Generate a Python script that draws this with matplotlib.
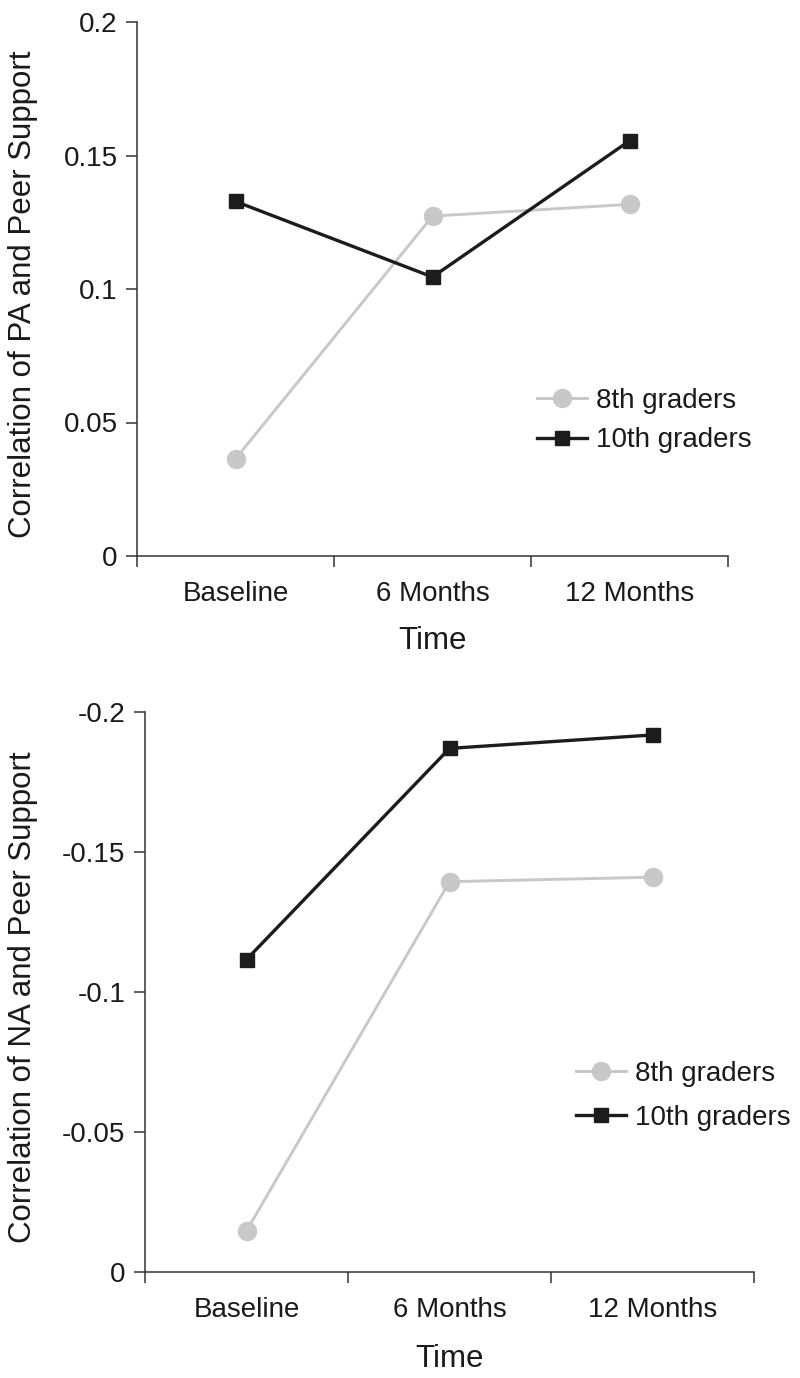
import matplotlib
matplotlib.use("Agg")
import matplotlib.pyplot as plt

plt.rcParams['font.family'] = ['Liberation Sans', 'DejaVu Sans']

categories = ["Baseline", "6 Months", "12 Months"]
series_names = ["8th graders", "10th graders"]

pa_8th = [0.0364, 0.1273, 0.1317]
pa_10th = [0.1328, 0.1045, 0.1555]
pa_yticks = [0, 0.05, 0.1, 0.15, 0.2]
pa_yticklabels = ["0", "0.05", "0.1", "0.15", "0.2"]

na_8th = [-0.0147, -0.1394, -0.1410]
na_10th = [-0.1116, -0.1870, -0.1918]
na_yticks = [0, -0.05, -0.1, -0.15, -0.2]
na_yticklabels = ["0", "-0.05", "-0.1", "-0.15", "-0.2"]

GRAY = "#c8c8c8"
BLACK = "#1c1c1c"
SPINE = "#333333"
TXT = "#1a1a1a"

W, H = 800, 1378
fig = plt.figure(figsize=(W / 100, H / 100), dpi=100)


def px_axes(left, right, top, bottom):
    return fig.add_axes([left / W, 1 - bottom / H, (right - left) / W, (bottom - top) / H])


def style(ax, yticks, yticklabels, ylim, ylabel, legend_anchor, spacing):
    x = list(range(len(categories)))
    ax.set_xlim(-0.5, len(categories) - 0.5)
    ax.set_ylim(*ylim)
    ax.set_xticks(x)
    ax.set_xticklabels(categories, fontsize=20, color=TXT)
    ax.set_xticks([i - 0.5 for i in range(len(categories) + 1)], minor=True)
    ax.tick_params(axis='x', which='major', length=0, pad=18)
    ax.tick_params(axis='x', which='minor', length=8, width=1.1, color=SPINE, direction='out')
    ax.set_yticks(yticks)
    ax.set_yticklabels(yticklabels, fontsize=20, color=TXT)
    ax.tick_params(axis='y', which='major', length=8, width=1.1, color=SPINE, pad=6)
    for s in ['top', 'right']:
        ax.spines[s].set_visible(False)
    for s in ['left', 'bottom']:
        ax.spines[s].set_color(SPINE)
        ax.spines[s].set_linewidth(1.1)
    ax.set_xlabel("Time", fontsize=22.5, color=TXT)
    ax.set_ylabel(ylabel, fontsize=22.5, color=TXT)
    leg = ax.legend(loc='center left', bbox_to_anchor=legend_anchor,
                    bbox_transform=fig.transFigure, frameon=False,
                    fontsize=20, handlelength=1.8, handletextpad=0.32,
                    labelspacing=spacing, borderpad=0, borderaxespad=0)
    for t in leg.get_texts():
        t.set_color(TXT)


def draw(ax, s8, s10):
    x = list(range(len(categories)))
    ax.plot(x, s8, color=GRAY, lw=2.1, marker='o', ms=13, mfc=GRAY, mec=GRAY,
            label=series_names[0], zorder=3)
    ax.plot(x, s10, color=BLACK, lw=2.4, marker='s', ms=10, mfc=BLACK, mec=BLACK,
            label=series_names[1], zorder=4)


ax1 = px_axes(137, 728, 22, 556)
draw(ax1, pa_8th, pa_10th)
style(ax1, pa_yticks, pa_yticklabels, (0, 0.2), "Correlation of PA and Peer Support",
      (537 / W, 1 - 420.5 / H), 0.5)
ax1.yaxis.set_label_coords(-0.167, 0.49)
ax1.xaxis.set_label_coords(0.5, -0.131)

ax2 = px_axes(145, 754, 712, 1272)
draw(ax2, na_8th, na_10th)
style(ax2, na_yticks, na_yticklabels, (0, -0.2), "Correlation of NA and Peer Support",
      (576 / W, 1 - 1096 / H), 0.65)
ax2.yaxis.set_label_coords(-0.176, 0.49)
ax2.xaxis.set_label_coords(0.5, -0.129)

fig.savefig("out.png", dpi=100)
